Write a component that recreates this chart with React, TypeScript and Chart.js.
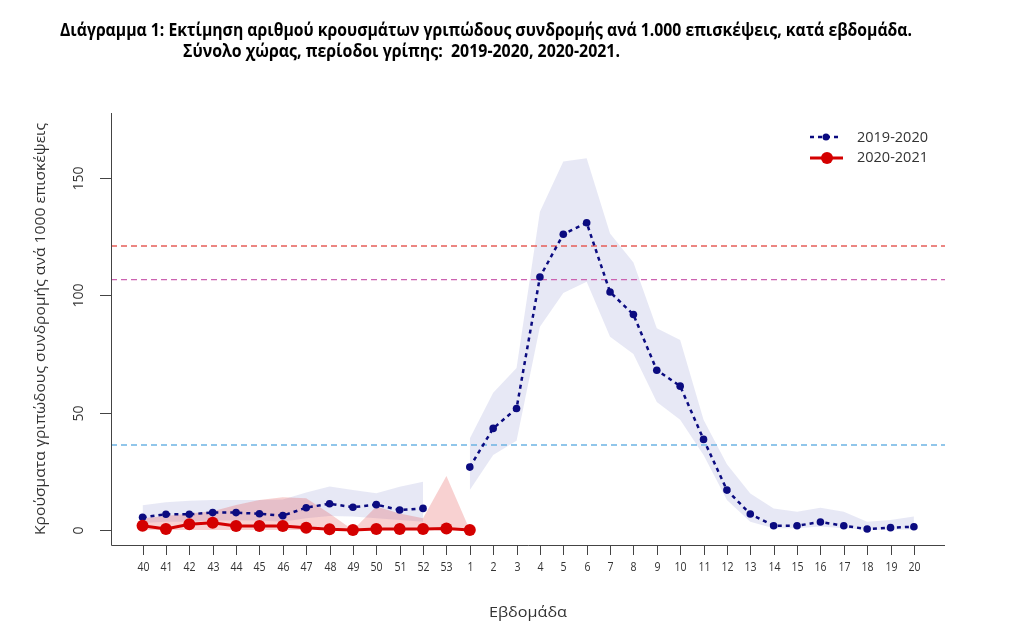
import React, { useEffect, useRef } from 'react';
import { Chart, registerables } from 'chart.js';

Chart.register(...registerables);

// ---- data ----
const weeks = ['40', '41', '42', '43', '44', '45', '46', '47', '48', '49', '50', '51', '52', '53',
  '1', '2', '3', '4', '5', '6', '7', '8', '9', '10', '11', '12', '13', '14', '15', '16', '17', '18', '19', '20'];

const ili2019 = [5.4, 6.7, 6.7, 7.4, 7.4, 6.9, 6.1, 9.5, 11.2, 9.7, 10.8, 8.5, 9.2, null,
  26.8, 43.3, 51.8, 107.8, 126, 130.9, 101.4, 91.8, 68.1, 61.3, 38.6, 17, 6.8, 1.8, 1.8, 3.4, 1.8, 0.4, 1.0, 1.4];

const upper2019 = [10.5, 11.8, 12.5, 12.8, 12.8, 12.8, 13, 16, 18.5, 17, 15.7, 18.4, 20.6, null,
  39, 58.5, 69, 135.6, 157, 158.4, 126.4, 114, 86, 81, 47, 28, 15.6, 9.2, 7.8, 9.5, 7.8, 3.5, 4.3, 5.7];

const lower2019 = [3, 3.5, 3.5, 4, 4, 4, 3.5, 5, 6, 5.7, 5, 4.3, 3.5, null,
  17, 32, 38, 86.6, 101, 105.8, 82.4, 75, 54.5, 47, 32, 12.8, 3.5, 0.7, 0.7, 1.5, 0.7, 0, 0, 0.3];

const ili2020 = [1.8, 0.4, 2.4, 3.1, 1.7, 1.7, 1.7, 1.0, 0.3, 0, 0.4, 0.4, 0.4, 0.6, 0];

const upper2020 = [5, 6, 7, 8, 10.6, 12.8, 14, 13.5, 7, 0, 10, 7, 5, 23, 0];

const thresholds = [121, 106.7, 36.2];
const thresholdColors = ['#e65f5a', '#cc62b0', '#6db4e4'];

const yTicks = [0, 50, 100, 150];

const seriesNames = ['2019-2020', '2020-2021'];

const titleLine1 = 'Διάγραμμα 1: Εκτίμηση αριθμού κρουσμάτων γριπώδους συνδρομής ανά 1.000 επισκέψεις, κατά εβδομάδα.';
const titleLine2 = 'Σύνολο χώρας, περίοδοι γρίπης:  2019-2020, 2020-2021.';
const yTitle = 'Κρούσματα γριπώδους συνδρομής ανά 1000 επισκέψεις';
const xTitle = 'Εβδομάδα';

const X_MIN = -1.35;
const X_MAX = 34.33;
const Y_MIN = -6.4;
const Y_MAX = 177.7;

const NAVY = '#0b0b80';
const RED = '#d40000';

function toPoints(arr: (number | null)[]) {
  return arr.map((v, i) => ({ x: i, y: v }));
}

function fitText(ctx: CanvasRenderingContext2D, text: string, x: number, y: number, width: number) {
  const w = ctx.measureText(text).width;
  const s = width / w;
  ctx.save();
  ctx.translate(x, y);
  ctx.scale(s, 1);
  ctx.fillText(text, 0, 0);
  ctx.restore();
}

const decorPlugin = {
  id: 'decor',
  afterDraw(chart: any) {
    const ctx: CanvasRenderingContext2D = chart.ctx;
    const { left, right, top, bottom } = chart.chartArea;
    const xs = chart.scales.x;
    const ys = chart.scales.y;
    ctx.save();

    // titles
    ctx.fillStyle = '#000';
    ctx.textBaseline = 'middle';
    ctx.textAlign = 'left';
    ctx.font = 'bold 17px "Open Sans", sans-serif';
    fitText(ctx, titleLine1, 60, 31, 852);
    fitText(ctx, titleLine2, 183, 52, 437);

    // axes lines (L box)
    ctx.strokeStyle = '#444';
    ctx.lineWidth = 1;
    ctx.beginPath();
    ctx.moveTo(Math.round(left) + 0.5, top);
    ctx.lineTo(Math.round(left) + 0.5, Math.round(bottom) + 0.5);
    ctx.lineTo(right, Math.round(bottom) + 0.5);
    ctx.stroke();

    // x ticks
    ctx.fillStyle = '#333';
    ctx.font = '12px "Open Sans", sans-serif';
    ctx.textAlign = 'center';
    weeks.forEach((w, i) => {
      const px = Math.round(xs.getPixelForValue(i)) + 0.5;
      ctx.beginPath();
      ctx.moveTo(px, bottom);
      ctx.lineTo(px, bottom + 10);
      ctx.stroke();
      ctx.save();
      ctx.translate(px, bottom + 23);
      ctx.scale(0.88, 1);
      ctx.fillText(w, 0, 0);
      ctx.restore();
    });

    // y ticks (rotated labels)
    ctx.font = '14px "Open Sans", sans-serif';
    yTicks.forEach((v) => {
      const py = Math.round(ys.getPixelForValue(v)) + 0.5;
      ctx.beginPath();
      ctx.moveTo(left - 11, py);
      ctx.lineTo(left, py);
      ctx.stroke();
      ctx.save();
      ctx.translate(left - 32, py);
      ctx.rotate(-Math.PI / 2);
      ctx.textAlign = 'center';
      ctx.fillText(String(v), 0, 0);
      ctx.restore();
    });

    // axis titles
    ctx.font = '15px "Open Sans", sans-serif';
    ctx.fillStyle = '#333';
    ctx.save();
    ctx.translate(41, (top + bottom) / 2);
    ctx.rotate(-Math.PI / 2);
    ctx.textAlign = 'left';
    fitText(ctx, yTitle, -206, 0, 412);
    ctx.restore();
    ctx.textAlign = 'left';
    fitText(ctx, xTitle, (left + right) / 2 - 39, 613, 78);

    // legend
    ctx.font = '14.5px "Open Sans", sans-serif';
    ctx.fillStyle = '#333';
    ctx.textAlign = 'left';
    // 2019-2020
    ctx.strokeStyle = NAVY;
    ctx.lineWidth = 2.5;
    ctx.setLineDash([4, 4]);
    ctx.beginPath();
    ctx.moveTo(810, 137);
    ctx.lineTo(842, 137);
    ctx.stroke();
    ctx.setLineDash([]);
    ctx.fillStyle = NAVY;
    ctx.beginPath();
    ctx.arc(826, 137, 3.5, 0, Math.PI * 2);
    ctx.fill();
    ctx.fillStyle = '#333';
    ctx.fillText(seriesNames[0], 857, 138);
    // 2020-2021
    ctx.strokeStyle = RED;
    ctx.lineWidth = 3;
    ctx.beginPath();
    ctx.moveTo(810, 158);
    ctx.lineTo(843, 158);
    ctx.stroke();
    ctx.fillStyle = RED;
    ctx.beginPath();
    ctx.arc(827, 158, 6, 0, Math.PI * 2);
    ctx.fill();
    ctx.fillStyle = '#333';
    ctx.fillText(seriesNames[1], 857, 158);

    ctx.restore();
  },
};

export default function App() {
  const ref = useRef<HTMLCanvasElement>(null);

  useEffect(() => {
    if (!ref.current) return;
    const refLines = thresholds.map((t, k) => ({
      type: 'line' as const,
      data: [{ x: X_MIN, y: t }, { x: X_MAX, y: t }],
      borderColor: thresholdColors[k],
      borderWidth: 1.4,
      borderDash: [6, 4],
      pointRadius: 0,
      fill: false,
      order: 2 + k,
    }));

    const chart = new Chart(ref.current, {
      type: 'line',
      data: {
        datasets: [
          {
            label: seriesNames[1],
            data: toPoints(ili2020),
            borderColor: RED,
            backgroundColor: RED,
            borderWidth: 3,
            pointRadius: 6,
            pointBackgroundColor: RED,
            pointBorderWidth: 0,
            fill: false,
            order: 0,
          },
          {
            label: seriesNames[0],
            data: toPoints(ili2019),
            borderColor: NAVY,
            backgroundColor: NAVY,
            borderWidth: 2.5,
            borderDash: [4, 4],
            pointRadius: 3.8,
            pointBackgroundColor: NAVY,
            pointBorderWidth: 0,
            fill: false,
            spanGaps: false,
            order: 1,
          },
          ...refLines,
          {
            label: 'band2020',
            data: toPoints(upper2020),
            borderWidth: 0,
            borderColor: 'rgba(0,0,0,0)',
            backgroundColor: 'rgba(228,70,70,0.25)',
            pointRadius: 0,
            fill: { value: 0 },
            order: 5,
          },
          {
            label: 'upper2019',
            data: toPoints(upper2019),
            borderWidth: 0,
            borderColor: 'rgba(0,0,0,0)',
            backgroundColor: 'rgba(40,50,160,0.11)',
            pointRadius: 0,
            fill: '+1',
            spanGaps: false,
            order: 6,
          },
          {
            label: 'lower2019',
            data: toPoints(lower2019),
            borderWidth: 0,
            borderColor: 'rgba(0,0,0,0)',
            pointRadius: 0,
            fill: false,
            spanGaps: false,
            order: 7,
          },
        ] as any,
      },
      options: {
        responsive: false,
        animation: false,
        layout: { padding: { left: 111, right: 79, top: 113, bottom: 83 } },
        plugins: {
          legend: { display: false },
          tooltip: { enabled: false },
          title: { display: false },
        },
        scales: {
          x: { type: 'linear', min: X_MIN, max: X_MAX, display: false },
          y: { type: 'linear', min: Y_MIN, max: Y_MAX, display: false },
        },
      },
      plugins: [decorPlugin],
    });
    return () => chart.destroy();
  }, []);

  return (
    <div style={{ position: 'absolute', left: 0, top: 0, width: 1024, height: 628, background: '#fff' }}>
      <canvas ref={ref} width={1024} height={628} />
    </div>
  );
}
